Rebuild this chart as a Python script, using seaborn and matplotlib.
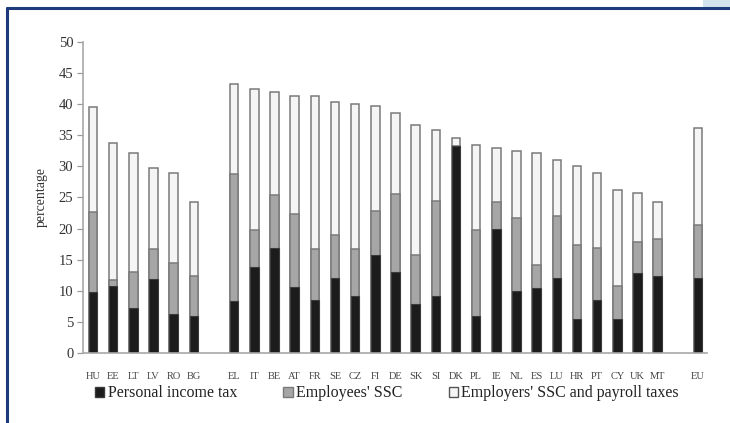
import numpy as np
import pandas as pd
import seaborn as sns
import matplotlib.pyplot as plt
from matplotlib.patches import Patch, Rectangle

# country codes, left group / main group / EU average
countries = ["HU", "EE", "LT", "LV", "RO", "BG",
             "EL", "IT", "BE", "AT", "FR", "SE", "CZ", "FI", "DE", "SK", "SI",
             "DK", "PL", "IE", "NL", "ES", "LU", "HR", "PT", "CY", "UK", "MT",
             "EU"]

# shares of labour cost (percentage)
personal_income_tax = [9.8, 10.7, 7.2, 11.9, 6.3, 6.0,
                       8.4, 13.8, 16.9, 10.6, 8.5, 12.1, 9.2, 15.8, 13.0, 7.9, 9.2,
                       33.3, 5.95, 20.0, 9.9, 10.4, 12.0, 5.4, 8.6, 5.5, 12.9, 12.4,
                       12.1]
employees_ssc = [12.8, 1.0, 5.9, 4.9, 8.2, 6.3,
                 20.4, 5.9, 8.5, 11.8, 8.2, 6.9, 7.5, 7.1, 12.6, 7.8, 15.3,
                 0.0, 13.85, 4.3, 11.8, 3.7, 10.0, 11.9, 8.3, 5.3, 4.9, 5.9,
                 8.4]
employers_ssc = [16.9, 22.1, 19.1, 12.9, 14.5, 11.9,
                 14.5, 22.7, 16.6, 18.9, 24.6, 21.4, 23.4, 16.8, 13.0, 21.0, 11.4,
                 1.3, 13.7, 8.7, 10.8, 18.0, 9.1, 12.8, 12.1, 15.4, 8.0, 5.9,
                 15.7]

# empty slots separate the groups on the axis
order = countries[:6] + [" "] + countries[6:28] + ["  "] + countries[28:]

df = pd.DataFrame({"country": countries,
                   "pit": personal_income_tax,
                   "ee": employees_ssc,
                   "er": employers_ssc})
df["pit_ee"] = df["pit"] + df["ee"]
df["total"] = df["pit_ee"] + df["er"]

sns.set_style("white")
plt.rcParams["font.family"] = ["Liberation Serif", "DejaVu Serif"]

fig = plt.figure(figsize=(7.3, 4.23), dpi=100)
ax = fig.add_axes([0.1137, 0.1655, 0.8548, 0.7352])

edge = "#7a7a7a"
black = "#1c1c1c"
grey = "#a6a6a6"
white = "#f5f5f5"

# stacked bars by overdrawing the cumulative sums
sns.barplot(data=df, x="country", y="total", order=order, color=white,
            saturation=1, width=0.42, edgecolor=edge, linewidth=1.1,
            errorbar=None, ax=ax)
sns.barplot(data=df, x="country", y="pit_ee", order=order, color=grey,
            saturation=1, width=0.42, edgecolor=edge, linewidth=1.1,
            errorbar=None, ax=ax)
sns.barplot(data=df, x="country", y="pit", order=order, color=black,
            saturation=1, width=0.42, edgecolor="#3a3a3a", linewidth=0.8,
            errorbar=None, ax=ax)

ax.set_xlim(-0.5, 30.45)
ax.set_ylim(0, 50)
ax.set_yticks(range(0, 51, 5))
ax.set_xlabel("")
ax.set_ylabel("percentage", fontsize=10, color="#333333", labelpad=8)
ax.tick_params(axis="y", which="both", left=True, length=4, width=0.9,
               color="#9a9a9a", labelsize=10.5, labelcolor="#333333", pad=3)
ax.tick_params(axis="x", bottom=False, labelsize=7.5, labelcolor="#444444", pad=10.5)

sns.despine(ax=ax)
for side in ["left", "bottom"]:
    ax.spines[side].set_color("#a8a8a8")
    ax.spines[side].set_linewidth(1.2)

handles = [Patch(facecolor=black, edgecolor="#3a3a3a", label="Personal income tax"),
           Patch(facecolor=grey, edgecolor=edge, label="Employees' SSC"),
           Patch(facecolor=white, edgecolor="#555555", label="Employers' SSC and payroll taxes")]
fig.legend(handles=handles, loc="center", bbox_to_anchor=(0.53, 0.07), ncol=3,
           frameon=False, fontsize=11.5, handlelength=0.6, handleheight=0.6,
           handletextpad=0.2, columnspacing=2.9, labelcolor="#222222")

# page frame around the figure
fig.patches.append(Rectangle((0.9635, 0.983), 0.05, 0.02, transform=fig.transFigure,
                             facecolor="#d3e3ee", edgecolor="none"))
fig.lines.append(plt.Line2D([0.009, 1.0], [0.9805, 0.9805], transform=fig.transFigure,
                            color="#1d3a7a", linewidth=2.2))
fig.lines.append(plt.Line2D([0.0095, 0.0095], [0.0, 0.981], transform=fig.transFigure,
                            color="#1d3a7a", linewidth=2.2))

fig.savefig("out.png", dpi=100)
